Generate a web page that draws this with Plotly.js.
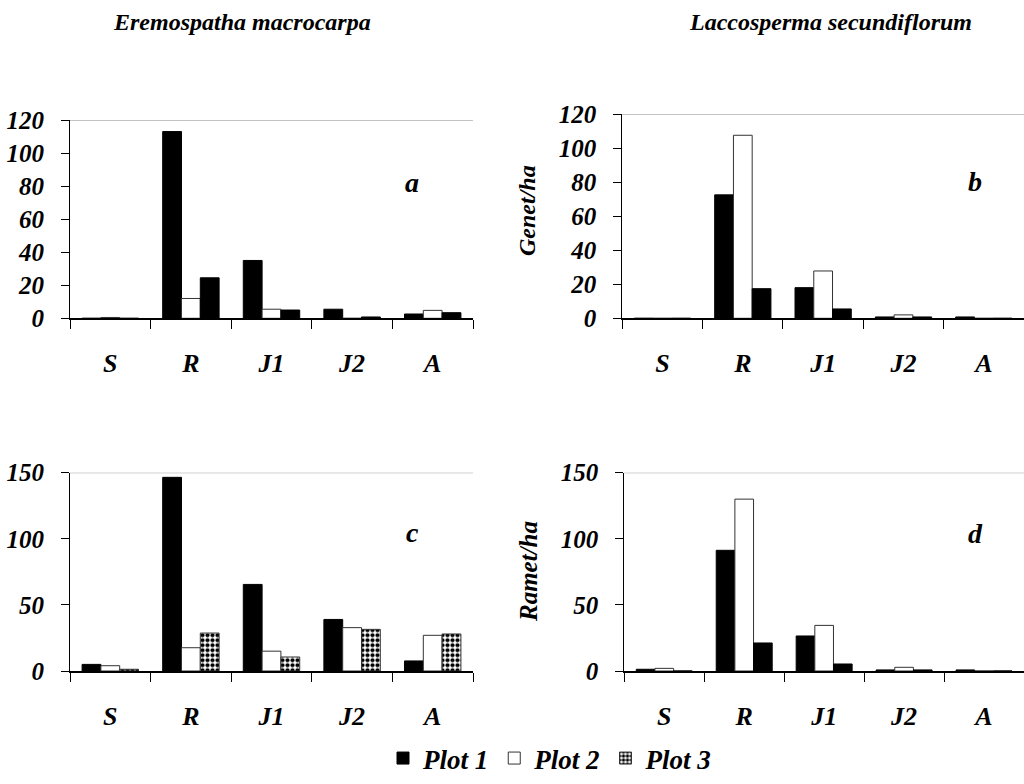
<!DOCTYPE html>
<html>
<head>
<meta charset="utf-8">
<script src="https://cdn.plot.ly/plotly-3.0.1.min.js"></script>
</head>
<body style="margin:0;background:#fff">
<div id="chart" style="width:1024px;height:784px"></div>
<script>
// ---- data ----
const stages = ["S", "R", "J1", "J2", "A"];
const seriesNames = ["Plot 1", "Plot 2", "Plot 3"];

// a: Eremospatha macrocarpa, Genet/ha
const genetEremoPlot1 = [0, 113, 35, 5.5, 2.6];
const genetEremoPlot2 = [0.5, 12, 5.5, 0, 4.8];
const genetEremoPlot3 = [0, 24.5, 5, 0.8, 3.4];
// b: Laccosperma secundiflorum, Genet/ha
const genetLaccoPlot1 = [0, 72.5, 18, 0.8, 0.8];
const genetLaccoPlot2 = [0, 107.5, 27.8, 2, 0];
const genetLaccoPlot3 = [0, 17.4, 5.5, 0.8, 0];
// c: Eremospatha macrocarpa, Ramet/ha
const rametEremoPlot1 = [5, 146.5, 65.5, 39, 7.6];
const rametEremoPlot2 = [4, 17.6, 15, 32.8, 27];
const rametEremoPlot3 = [1.3, 28.7, 10.6, 31.5, 28];
// d: Laccosperma secundiflorum, Ramet/ha
const rametLaccoPlot1 = [1.3, 91.3, 26.5, 0.8, 0.8];
const rametLaccoPlot2 = [2, 130, 34.5, 2.8, 0];
const rametLaccoPlot3 = [0, 21.2, 5.3, 0.8, 0];

const speciesTitles = ["Eremospatha macrocarpa", "Laccosperma secundiflorum"];
const yTitles = ["Genet/ha", "Ramet/ha"];
const panelLetters = ["a", "b", "c", "d"];

// ---- helpers ----
const W = 1024, H = 784;
const px = x => x / W;
const py = y => 1 - y / H;
const FONT = "Liberation Serif";
const bi = (size) => ({family: FONT, size: size, color: "#000", weight: "bold", style: "italic"});

const black = {color: "#000", line: {color: "#000", width: 1}};
const white = {color: "#fff", line: {color: "#333", width: 1}};
const checker = {color: "#fff", line: {color: "#333", width: 1},
  pattern: {shape: ".", fgcolor: "#000", bgcolor: "#fff", size: 5, solidity: 0.55}};

function bar(name, y, xa, ya, marker, showlegend) {
  return {type: "bar", name: name, x: stages, y: y, xaxis: xa, yaxis: ya,
    marker: marker, showlegend: showlegend, hoverinfo: "skip"};
}

const traces = [
  bar(seriesNames[0], genetEremoPlot1, "x", "y", black, false),
  bar(seriesNames[1], genetEremoPlot2, "x", "y", white, false),
  bar(seriesNames[2], genetEremoPlot3, "x", "y", black, false),
  bar(seriesNames[0], genetLaccoPlot1, "x2", "y2", black, false),
  bar(seriesNames[1], genetLaccoPlot2, "x2", "y2", white, false),
  bar(seriesNames[2], genetLaccoPlot3, "x2", "y2", black, false),
  bar(seriesNames[0], rametEremoPlot1, "x3", "y3", black, true),
  bar(seriesNames[1], rametEremoPlot2, "x3", "y3", white, true),
  bar(seriesNames[2], rametEremoPlot3, "x3", "y3", checker, true),
  bar(seriesNames[0], rametLaccoPlot1, "x4", "y4", black, false),
  bar(seriesNames[1], rametLaccoPlot2, "x4", "y4", white, false),
  bar(seriesNames[2], rametLaccoPlot3, "x4", "y4", black, false)
];

function xaxis(domain, anchor) {
  return {domain: domain, anchor: anchor, type: "category",
    showline: true, linecolor: "#000", linewidth: 1.5,
    ticks: "outside", tickson: "boundaries", ticklen: 9, tickcolor: "#000", tickwidth: 1,
    tickfont: bi(26), ticklabelstandoff: 21, showgrid: false, zeroline: false, fixedrange: true};
}
function yaxis(domain, anchor, max, dtick) {
  return {domain: domain, anchor: anchor, range: [0, max], dtick: dtick,
    showline: true, linecolor: "#000", linewidth: 1,
    ticks: "outside", ticklen: 8, tickcolor: "#000", tickwidth: 1,
    tickfont: bi(25), ticklabelstandoff: 12, showgrid: false, zeroline: false, fixedrange: true};
}

const layout = {
  width: W, height: H, autosize: false,
  font: bi(24),
  margin: {l: 0, r: 0, t: 0, b: 0, pad: 0},
  paper_bgcolor: "#fff", plot_bgcolor: "#fff",
  barmode: "group", bargap: 0.3, bargroupgap: 0,
  showlegend: true,
  legend: {orientation: "h", x: px(550), xanchor: "center", y: py(783), yanchor: "bottom",
    font: bi(27), traceorder: "normal", itemwidth: 30, bgcolor: "rgba(0,0,0,0)"},
  xaxis: xaxis([px(70), px(473)], "y"),
  yaxis: yaxis([py(318.3), py(120)], "x", 120, 20),
  xaxis2: xaxis([px(622.3), 1], "y2"),
  yaxis2: yaxis([py(318.3), py(114)], "x2", 120, 20),
  xaxis3: xaxis([px(70), px(473)], "y3"),
  yaxis3: yaxis([py(671), py(472.7)], "x3", 150, 50),
  xaxis4: xaxis([px(624.3), 1], "y4"),
  yaxis4: yaxis([py(671), py(472.7)], "x4", 150, 50),
  shapes: [
    {type: "line", xref: "x domain", yref: "y", x0: 0, x1: 1, y0: 120, y1: 120, line: {color: "#888", width: 1}},
    {type: "line", xref: "x2 domain", yref: "y2", x0: 0, x1: 1, y0: 120, y1: 120, line: {color: "#888", width: 1}},
    {type: "line", xref: "x3 domain", yref: "y3", x0: 0, x1: 1, y0: 150, y1: 150, line: {color: "#888", width: 1}},
    {type: "line", xref: "x4 domain", yref: "y4", x0: 0, x1: 1, y0: 150, y1: 150, line: {color: "#888", width: 1}}
  ],
  annotations: [
    {text: speciesTitles[0], xref: "paper", yref: "paper", x: px(242), y: py(22), showarrow: false, font: bi(24), xanchor: "center", yanchor: "middle"},
    {text: speciesTitles[1], xref: "paper", yref: "paper", x: px(830), y: py(22), showarrow: false, font: bi(24), xanchor: "center", yanchor: "middle"},
    {text: yTitles[0], xref: "paper", yref: "paper", x: px(527), y: py(211), showarrow: false, font: bi(24), textangle: -90, xanchor: "center", yanchor: "middle"},
    {text: yTitles[1], xref: "paper", yref: "paper", x: px(528), y: py(572), showarrow: false, font: bi(25), textangle: -90, xanchor: "center", yanchor: "middle"},
    {text: panelLetters[0], xref: "paper", yref: "paper", x: px(412), y: py(182), showarrow: false, font: bi(28), xanchor: "center", yanchor: "middle"},
    {text: panelLetters[1], xref: "paper", yref: "paper", x: px(975), y: py(181), showarrow: false, font: bi(28), xanchor: "center", yanchor: "middle"},
    {text: panelLetters[2], xref: "paper", yref: "paper", x: px(412), y: py(532), showarrow: false, font: bi(28), xanchor: "center", yanchor: "middle"},
    {text: panelLetters[3], xref: "paper", yref: "paper", x: px(975), y: py(533), showarrow: false, font: bi(28), xanchor: "center", yanchor: "middle"}
  ]
};

Plotly.newPlot("chart", traces, layout, {displayModeBar: false});
</script>
</body>
</html>
